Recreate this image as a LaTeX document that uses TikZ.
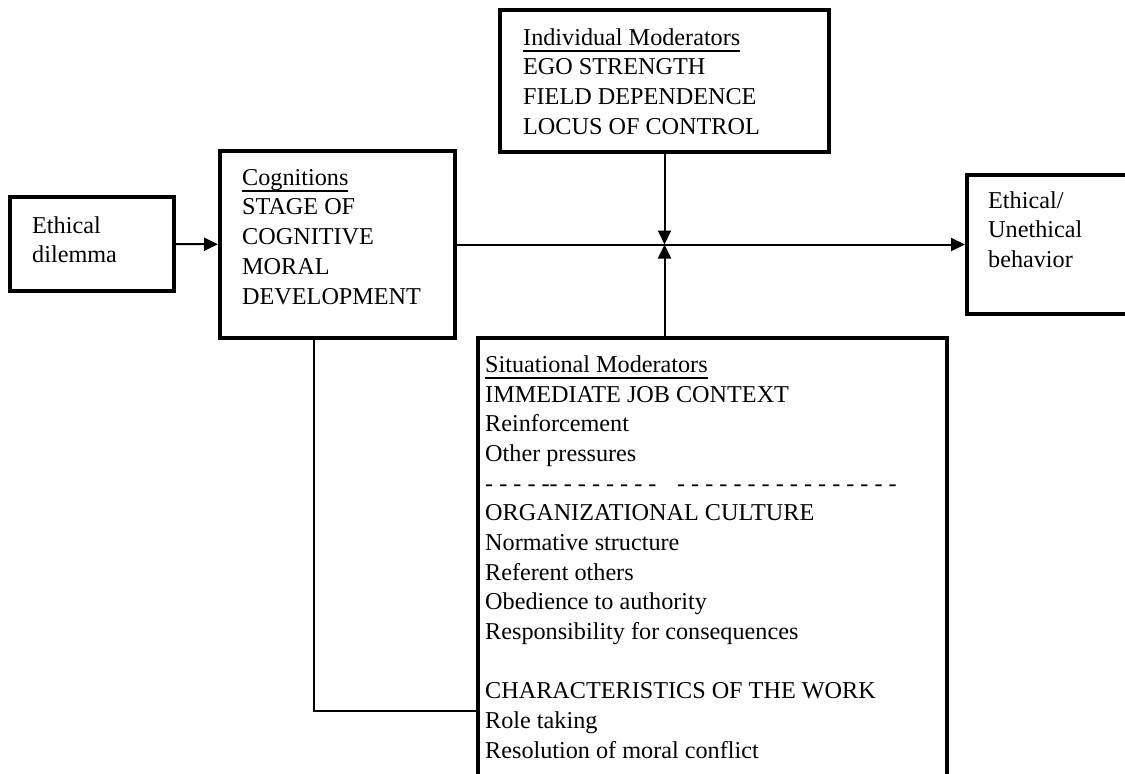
\documentclass[tikz,border=0pt]{standalone}
\usepackage{fontspec}
\setmainfont{Liberation Serif}
\usetikzlibrary{arrows.meta}
\newcommand\boxfont{\fontsize{24.2}{29.7}\selectfont}
\newcommand\ulhead[1]{\setbox0\hbox{#1}\rlap{\vrule height -4.6pt depth 6.4pt width \wd0}\box0}

\begin{document}
\begin{tikzpicture}[x=1pt,y=-1pt,
  box/.style={draw,line width=4pt,inner sep=0pt},
  txt/.style={anchor=north west,inner sep=0pt,align=left,font=\boxfont},
  arr/.style={line width=2pt,-{Triangle[length=14pt,width=13pt]}},
  link/.style={line width=1.5pt}]
\clip (0,0) rectangle (1125,774);
\fill[white] (0,0) rectangle (1125,774);
% boxes
\node[box,minimum width=164,minimum height=94] (dilemma) at (92,244){};
\node[box,minimum width=235,minimum height=187] (cog) at (337.5,244.5){};
\node[box,minimum width=329,minimum height=142] (indiv) at (664.5,81){};
\node[box,minimum width=233,minimum height=139] (outcome) at (1083.5,244.5){};
\node[box,minimum width=469,minimum height=562] (situ) at (712.5,619){};
% texts
\node[txt] (dilemmatxt) at (32,212.3){\strut Ethical\\dilemma};
\node[txt] (cogtxt) at (242,164.3){\strut\ulhead{Cognitions}\\STAGE OF\\COGNITIVE\\MORAL\\DEVELOPMENT};
\node[txt] (indivtxt) at (523,24.3){\strut\ulhead{Individual Moderators}\\EGO STRENGTH\\FIELD DEPENDENCE\\LOCUS OF CONTROL};
\node[txt] (outcometxt) at (988,187.3){\strut Ethical/\\Unethical\\behavior};
\node[txt] (situtxt) at (485,351.3){\strut\ulhead{Situational Moderators}\\
IMMEDIATE JOB CONTEXT\\
Reinforcement\\
Other pressures\\
- - - - -{}- - - - - - - -\hspace{0.6em} - - - - - - - - - - - - - - - -\\
ORGANIZATIONAL CULTURE\\
Normative structure\\
Referent others\\
Obedience to authority\\
Responsibility for consequences\\
\strut\\
CHARACTERISTICS OF THE WORK\\
Role taking\\
Resolution of moral conflict};
% connectors
\coordinate (meet) at (indiv.south |- cog.east);
\coordinate (corner) at (314,711);
\draw[arr] (dilemma) -- (cog);
\draw[arr] (cog) -- (outcome);
\draw[arr] (indiv) -- (meet);
\draw[arr] (situ.north -| meet) -- (meet);
\draw[link] (cog.south -| corner) |- (situ.west |- corner);
\end{tikzpicture}
\end{document}
